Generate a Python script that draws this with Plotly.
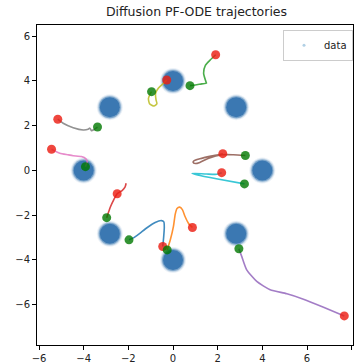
import plotly.graph_objects as go

# cluster centres of the 8-gaussian data
cluster_x = [4.0, 2.83, 0.0, -2.83, -4.0, -2.83, 0.0, 2.83]
cluster_y = [0.0, 2.83, 4.0, 2.83, 0.0, -2.83, -4.0, -2.83]

# trajectories
blue_x = [-0.46, -0.42, -0.39, -0.41, -0.52, -0.8, -1.15, -1.5, -1.75, -1.97]
blue_y = [-3.40, -3.0, -2.55, -2.30, -2.24, -2.33, -2.55, -2.82, -3.0, -3.10]
orange_x = [0.87, 0.69, 0.54, 0.42, 0.30, 0.18, 0.10, 0.02, -0.12, -0.26]
orange_y = [-2.55, -2.36, -2.06, -1.75, -1.64, -1.70, -1.95, -2.5, -3.1, -3.55]
green_x = [1.91, 1.66, 1.45, 1.37, 1.48, 1.50, 1.29, 1.0, 0.76]
green_y = [5.17, 4.93, 4.70, 4.35, 3.95, 3.90, 3.87, 3.82, 3.79]
red_x = [-2.10, -2.15, -2.28, -2.50, -2.65, -2.80, -2.90, -2.97]
red_y = [-0.57, -0.75, -0.90, -1.04, -1.30, -1.62, -1.90, -2.11]
purple_x = [7.67, 6.74, 5.84, 5.10, 4.35, 3.75, 3.30, 3.08, 2.95]
purple_y = [-6.50, -6.11, -5.75, -5.51, -5.33, -4.96, -4.44, -3.85, -3.50]
brown_x = [2.23, 1.7, 1.2, 0.95, 0.90, 1.0, 1.2, 1.6, 2.2, 2.7, 3.24]
brown_y = [0.75, 0.64, 0.52, 0.44, 0.36, 0.31, 0.36, 0.55, 0.70, 0.70, 0.67]
pink_x = [-5.44, -5.07, -4.7, -4.47, -4.1, -3.90, -3.84, -3.90, -3.92]
pink_y = [0.95, 0.77, 0.70, 0.66, 0.62, 0.52, 0.39, 0.22, 0.17]
gray_x = [-5.16, -4.92, -4.47, -4.02, -3.80, -3.72, -3.65, -3.55, -3.38]
gray_y = [2.29, 2.11, 1.91, 1.81, 1.84, 1.89, 1.78, 1.82, 1.94]
olive_x = [-0.28, -0.43, -0.65, -0.78, -0.76, -0.72, -0.85, -1.05, -1.10, -1.02, -0.96]
olive_y = [4.04, 3.89, 3.68, 3.45, 3.15, 2.98, 2.88, 2.98, 3.22, 3.42, 3.52]
cyan_x = [2.18, 1.96, 1.5, 0.85, 1.1, 2.0, 3.20]
cyan_y = [-0.10, -0.17, -0.16, -0.13, -0.20, -0.38, -0.60]

start_x = [-0.46, 0.87, 1.91, -2.50, 7.67, 2.23, -5.44, -5.16, -0.28, 2.18]
start_y = [-3.40, -2.55, 5.17, -1.04, -6.50, 0.75, 0.95, 2.29, 4.04, -0.10]
end_x = [-1.97, -0.26, 0.76, -2.97, 2.95, 3.24, -3.92, -3.38, -0.96, 3.20]
end_y = [-3.10, -3.55, 3.79, -2.11, -3.50, 0.67, 0.17, 1.94, 3.52, -0.60]

x_ticks = [-6, -4, -2, 0, 2, 4, 6, 8]
y_ticks = [-6, -4, -2, 0, 2, 4, 6]

trajs = [
    (blue_x, blue_y, "#1f77b4"),
    (orange_x, orange_y, "#ff7f0e"),
    (green_x, green_y, "#2ca02c"),
    (red_x, red_y, "#d62728"),
    (purple_x, purple_y, "#9467bd"),
    (brown_x, brown_y, "#8c564b"),
    (pink_x, pink_y, "#e377c2"),
    (gray_x, gray_y, "#7f7f7f"),
    (olive_x, olive_y, "#bcbd22"),
    (cyan_x, cyan_y, "#17becf"),
]

fig = go.Figure()

# fuzzy data blobs
for size, op in [(26, 0.10), (24, 0.22), (22, 0.5), (20, 0.95)]:
    fig.add_trace(go.Scatter(
        x=cluster_x, y=cluster_y, mode="markers", showlegend=False,
        hoverinfo="skip",
        marker=dict(size=size, color="#3875b0", opacity=op, line=dict(width=0)),
    ))

# legend entry for data
fig.add_trace(go.Scatter(
    x=[None], y=[None], mode="markers", name="data",
    marker=dict(size=3, color="#1f77b4", opacity=0.35),
))

for tx, ty, col in trajs:
    fig.add_trace(go.Scatter(
        x=tx, y=ty, mode="lines", showlegend=False,
        line=dict(color=col, width=1.6, shape="spline", smoothing=0.6),
        opacity=0.85,
    ))

fig.add_trace(go.Scatter(
    x=start_x, y=start_y, mode="markers", showlegend=False,
    marker=dict(size=9, color="rgba(235,30,20,0.82)", line=dict(width=0)),
))
fig.add_trace(go.Scatter(
    x=end_x, y=end_y, mode="markers", showlegend=False,
    marker=dict(size=9, color="rgba(0,120,0,0.8)", line=dict(width=0)),
))

axis_common = dict(
    showgrid=False, zeroline=False, showline=True, linecolor="black",
    linewidth=1, mirror=True, ticks="outside", ticklen=4, tickwidth=1,
    tickcolor="black", tickfont=dict(family="DejaVu Sans", size=10, color="#222"),
)

fig.update_layout(
    width=354, height=364,
    margin=dict(l=37, r=1, t=25, b=19),
    paper_bgcolor="white", plot_bgcolor="white",
    title=dict(text="Diffusion PF-ODE trajectories", x=0.555, xanchor="center",
               y=0.967, yanchor="middle",
               font=dict(family="DejaVu Sans", size=12.5, color="#222")),
    xaxis=dict(range=[-6.09, 8.06], tickvals=x_ticks, **axis_common),
    yaxis=dict(range=[-7.80, 6.50], tickvals=y_ticks, **axis_common),
    legend=dict(x=1.0, xanchor="right", y=0.985, yanchor="top",
                bordercolor="#cccccc", borderwidth=1, bgcolor="white",
                font=dict(family="DejaVu Sans", size=10, color="#222")),
    showlegend=True,
)

fig.write_html(
    "out.html",
    config={"displayModeBar": False},
    post_script="document.body.style.margin='0';document.body.style.overflow='hidden';",
)
